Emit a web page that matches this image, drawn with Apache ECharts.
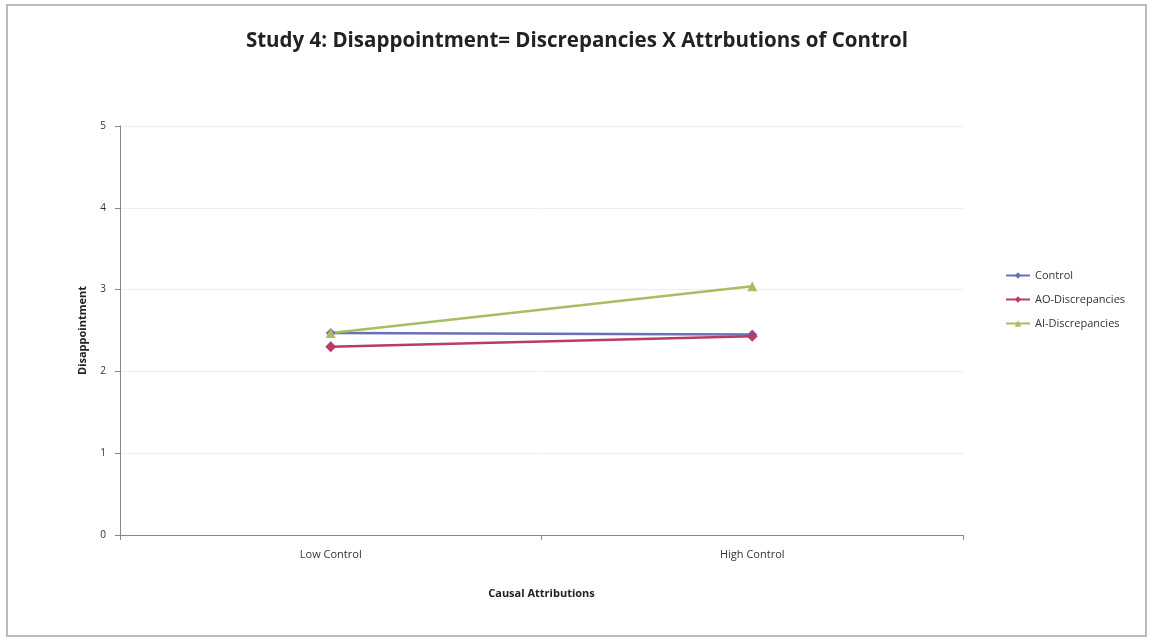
<!DOCTYPE html>
<html>
<head>
<meta charset="utf-8">
<script src="https://cdn.jsdelivr.net/npm/echarts@6/dist/echarts.min.js"></script>
<style>
  html, body { margin: 0; padding: 0; background: #fff; }
  #main { width: 1154px; height: 641px; }
</style>
</head>
<body>
<div id="main"></div>
<script>
// categories on the x axis
var categories = ['Low Control', 'High Control'];
// series values
var controlVals = [2.47, 2.45];
var aoVals = [2.30, 2.43];
var aiVals = [2.47, 3.04];

var chart = echarts.init(document.getElementById('main'));

function mkSeries(name, data, color, symbol, size) {
  return {
    name: name,
    type: 'line',
    data: data,
    symbol: symbol,
    symbolSize: size,
    lineStyle: { color: color, width: 2.5 },
    itemStyle: { color: color },
    emphasis: { disabled: true }
  };
}

var option = {
  animation: false,
  backgroundColor: '#fff',
  title: {
    text: 'Study 4: Disappointment= Discrepancies X Attrbutions of Control',
    left: 'center',
    top: 26,
    textStyle: { fontFamily: 'Open Sans', fontWeight: 'bold', fontSize: 20.5, color: '#222' }
  },
  graphic: [{
    type: 'rect',
    shape: { x: 7, y: 5, width: 1139, height: 631 },
    style: { fill: 'none', stroke: '#bbb', lineWidth: 2 },
    silent: true
  }],
  legend: {
    orient: 'vertical',
    left: 1000,
    top: 265,
    itemGap: 13,
    itemWidth: 24,
    itemHeight: 8,
    textStyle: { fontFamily: 'Open Sans', fontSize: 11, color: '#333' },
    data: ['Control', 'AO-Discrepancies', 'AI-Discrepancies']
  },
  grid: { left: 120, right: 191, top: 126, bottom: 106 },
  xAxis: {
    type: 'category',
    data: categories,
    boundaryGap: true,
    name: 'Causal Attributions',
    nameLocation: 'middle',
    nameGap: 53,
    nameTextStyle: { fontFamily: 'Open Sans', fontWeight: 'bold', fontSize: 11, color: '#222' },
    axisLine: { lineStyle: { color: '#888' } },
    axisTick: { show: true, length: 5, lineStyle: { color: '#888' } },
    axisLabel: { fontFamily: 'Open Sans', fontSize: 11, color: '#333', margin: 14 }
  },
  yAxis: {
    type: 'value',
    min: 0,
    max: 5,
    interval: 1,
    name: 'Disappointment',
    nameLocation: 'middle',
    nameGap: 32,
    nameTextStyle: { fontFamily: 'Open Sans', fontWeight: 'bold', fontSize: 11, color: '#222' },
    axisLine: { show: true, lineStyle: { color: '#888' } },
    axisTick: { show: true, length: 5, lineStyle: { color: '#888' } },
    axisLabel: { fontFamily: 'Open Sans', fontSize: 10, color: '#333', margin: 14 },
    splitLine: { lineStyle: { color: '#eee' } }
  },
  series: [
    mkSeries('Control', controlVals, '#6b6fb5', 'diamond', 10),
    mkSeries('AO-Discrepancies', aoVals, '#b83c66', 'diamond', 11),
    mkSeries('AI-Discrepancies', aiVals, '#a8be62', 'triangle', 10)
  ]
};

chart.setOption(option);
</script>
</body>
</html>
